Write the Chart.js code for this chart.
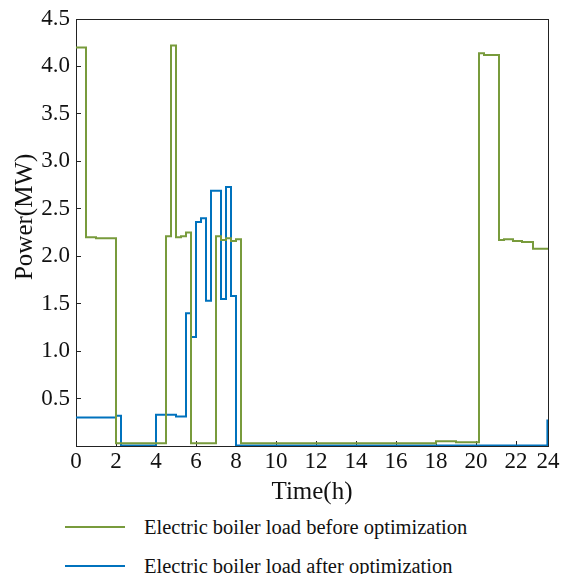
<!DOCTYPE html>
<html>
<head>
<meta charset="utf-8">
<script src="https://cdn.jsdelivr.net/npm/chart.js@4"></script>
<style>
  body { margin: 0; background: #fff; }
  #wrap { position: relative; width: 563px; height: 510px; }
  .legend { position: absolute; left: 0; width: 563px; height: 24px; font: 20.5px 'Liberation Serif', serif; color: #111; }
  .legend .swatch { position: absolute; left: 65px; top: 11px; width: 60px; height: 2px; }
  .legend .label { position: absolute; left: 144px; top: 0; line-height: 24px; white-space: nowrap; }
</style>
</head>
<body>
<div id="wrap"><canvas id="boilerChart"></canvas></div>
<div class="legend" style="top:515px"><span class="swatch" style="background:#789B3C"></span><span class="label">Electric boiler load before optimization</span></div>
<div class="legend" style="top:554px"><span class="swatch" style="background:#0072BD"></span><span class="label">Electric boiler load after optimization</span></div>
<script>
// before optimization (hour, MW) - each value holds until the next hour
const beforeHours = [0, 0.5, 1, 2, 4.5, 4.75, 5, 5.25, 5.5, 5.75, 7, 7.25, 7.5, 7.75, 8, 8.25, 18, 19, 20.15, 20.4, 21.15, 21.4, 21.85, 22.3, 22.85, 23.6];
const beforeLoad  = [4.20, 2.20, 2.19, 0.03, 2.21, 4.22, 2.20, 2.21, 2.25, 0.03, 2.21, 2.17, 2.19, 2.16, 2.18, 0.03, 0.05, 0.04, 4.14, 4.12, 2.17, 2.18, 2.16, 2.15, 2.08, 2.08];

// after optimization
const afterHours = [0, 2, 2.25, 4, 5, 5.5, 5.75, 6, 6.25, 6.5, 6.75, 7.25, 7.5, 7.75, 8, 23.57, 23.6];
const afterLoad  = [0.30, 0.32, 0.005, 0.33, 0.31, 1.40, 1.15, 2.36, 2.40, 1.53, 2.69, 1.55, 2.73, 1.58, 0.005, 0.27, 0.27];

const xTicks = [0, 2, 4, 6, 8, 10, 12, 14, 16, 18, 20, 22, 23.6];
const xTickLabels = ['0', '2', '4', '6', '8', '10', '12', '14', '16', '18', '20', '22', '24'];

const toPoints = (hours, vals) => hours.map((h, i) => ({ x: h, y: vals[i] }));

const frame = {
  id: 'frame',
  beforeDatasetsDraw(chart) {
    const { ctx, chartArea: a } = chart;
    ctx.save();
    ctx.strokeStyle = '#222';
    ctx.lineWidth = 1;
    ctx.strokeRect(a.left + 0.5, a.top + 0.5, a.right - a.left, a.bottom - a.top);
    ctx.restore();
  }
};

const serif = 'Liberation Serif';

new Chart(document.getElementById('boilerChart'), {
  type: 'line',
  data: {
    datasets: [{
      label: 'Electric boiler load before optimization',
      data: toPoints(beforeHours, beforeLoad),
      borderColor: '#789B3C',
      borderWidth: 2,
      stepped: true,
      pointRadius: 0
    }, {
      label: 'Electric boiler load after optimization',
      data: toPoints(afterHours, afterLoad),
      borderColor: '#0072BD',
      borderWidth: 2,
      stepped: true,
      pointRadius: 0
    }]
  },
  options: {
    responsive: true,
    maintainAspectRatio: false,
    animation: false,
    layout: { padding: { top: 19, right: 15, left: 0, bottom: 0 } },
    plugins: { legend: { display: false }, tooltip: { enabled: false } },
    scales: {
      x: {
        type: 'linear',
        min: 0,
        max: 23.6,
        afterBuildTicks: s => { s.ticks = xTicks.map(v => ({ value: v })); },
        afterFit: s => { s.height = 64; s.paddingLeft = 0; s.paddingRight = 0; },
        ticks: {
          autoSkip: false,
          maxRotation: 0,
          padding: 7,
          color: '#111',
          font: { family: serif, size: 23 },
          callback: (v, i) => xTickLabels[i]
        },
        grid: { drawOnChartArea: false, tickLength: -5, color: '#222' },
        border: { color: '#222' },
        title: { display: true, text: 'Time(h)', color: '#111', font: { family: serif, size: 25 }, padding: { top: 0, bottom: 3 } }
      },
      y: {
        min: 0,
        max: 4.5,
        afterFit: s => { s.width = 76; s.paddingTop = 0; s.paddingBottom = 0; },
        ticks: {
          stepSize: 0.5,
          padding: 11,
          color: '#111',
          font: { family: serif, size: 23 },
          callback: v => v === 0 ? '' : v.toFixed(1)
        },
        grid: { drawOnChartArea: false, tickLength: -5, color: '#222' },
        border: { color: '#222' },
        title: { display: true, text: '     Power(MW)', color: '#111', font: { family: serif, size: 25 }, padding: { top: 10, bottom: 0 } }
      }
    }
  },
  plugins: [frame]
});
</script>
</body>
</html>
